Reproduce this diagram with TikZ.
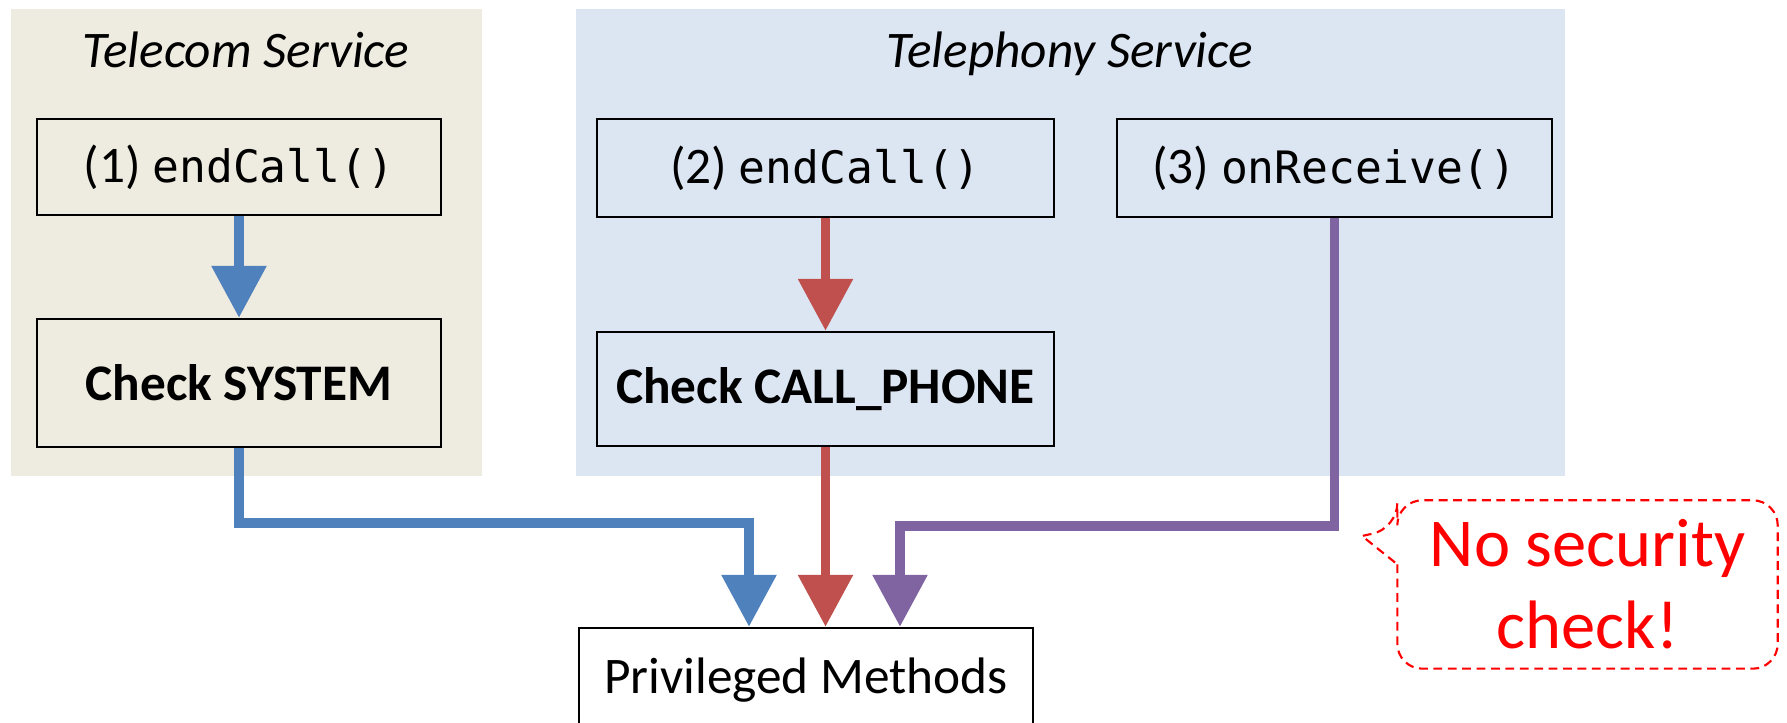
\documentclass[tikz,border=0pt]{standalone}
\usepackage{fontspec}
\setmainfont{Carlito}
\setmonofont[Scale=0.87]{DejaVu Sans Mono}
\usetikzlibrary{arrows.meta}
\definecolor{telecombg}{HTML}{EEEBE0}
\definecolor{phonebg}{HTML}{DCE6F2}
\definecolor{flowblue}{HTML}{4F81BD}
\definecolor{flowred}{HTML}{C0504D}
\definecolor{flowpurple}{HTML}{8064A2}

\begin{document}
\begin{tikzpicture}[>={Triangle[length=0.52cm,width=0.53cm]},
  box/.style={draw,line width=0.7pt,inner sep=0pt,font=\fontsize{14.6}{17.5}\selectfont},
  title/.style={anchor=base,font=\fontsize{14.6}{17.5}\selectfont\itshape},
  flow/.style={->,line width=2.7pt}]
  \useasboundingbox (0,0) rectangle (17.87,-7.23);

  % the two services
  \fill[telecombg] (0.11,-0.09) rectangle (4.82,-4.76);
  \fill[phonebg] (5.76,-0.09) rectangle (15.65,-4.76);
  \node[title] (telecom) at (2.46,-0.68) {Telecom Service};
  \node[title] (telephony) at (10.70,-0.68) {Telephony Service};

  % entry points and checks
  \node[box,minimum width=4.04cm,minimum height=0.96cm] (call1) at (2.39,-1.67)
    {(1) \texttt{endCall()}};
  \node[box,minimum width=4.04cm,minimum height=1.28cm] (sys) at (2.39,-3.83)
    {\bfseries Check SYSTEM};
  \node[box,minimum width=4.57cm,minimum height=0.98cm] (call2) at (8.255,-1.68)
    {(2) \texttt{endCall()}};
  \node[box,minimum width=4.57cm,minimum height=1.14cm] (phone) at (8.255,-3.89)
    {\bfseries Check CALL\_PHONE};
  \node[box,minimum width=4.35cm,minimum height=0.98cm] (recv) at (13.345,-1.68)
    {(3) \texttt{onReceive()}};
  \node[box,fill=white,minimum width=4.54cm,minimum height=1.04cm] (priv) at (8.06,-6.80)
    {Privileged Methods};

  % call paths
  \draw[flow,flowblue] (call1.south) -- (sys.north);
  \draw[flow,flowblue] (sys.south) -- ++(0,-0.75) -| ([xshift=-0.57cm]priv.north);
  \draw[flow,flowred] (call2.south) -- (phone.north);
  \draw[flow,flowred] (phone.south) -- (phone.south |- priv.north);
  \draw[flow,flowpurple] (recv.south) -- ++(0,-3.08) -| ([xshift=0.94cm]priv.north);

  % warning bubble
  \node[text=red,align=center,inner sep=0pt,minimum width=3.79cm,minimum height=1.67cm,
    font=\fontsize{19.5}{23.3}\selectfont] (warn) at (15.875,-5.845) {No security\\check!};
  \coordinate (tip) at (13.62,-5.36);
  \draw[red,line width=0.6pt,dash pattern=on 2.5pt off 1.6pt]
    ([yshift=-0.64cm]warn.north west) [rounded corners=0.25cm] -- (warn.south west)
    -- (warn.south east) -- (warn.north east) -- (warn.north west)
    -- ([yshift=-0.28cm]warn.north west) [sharp corners] -- (tip)
    -- ([yshift=-0.64cm]warn.north west);
\end{tikzpicture}
\end{document}
